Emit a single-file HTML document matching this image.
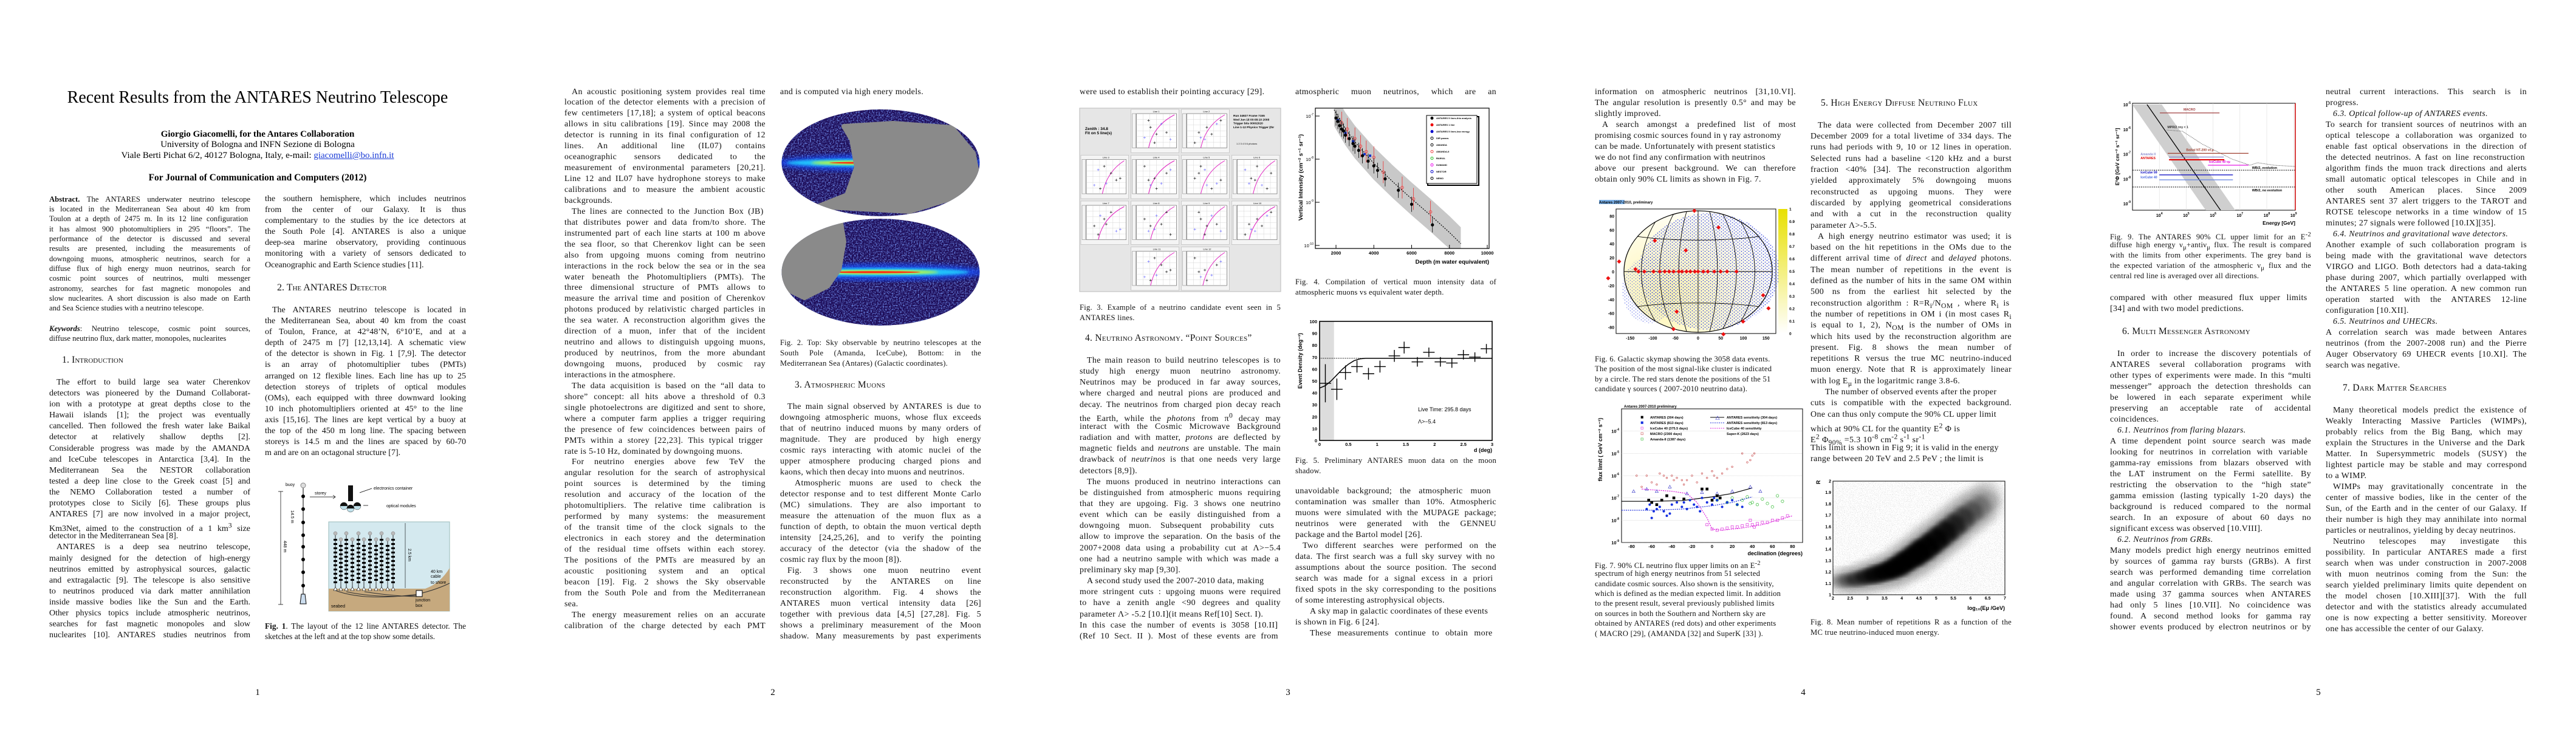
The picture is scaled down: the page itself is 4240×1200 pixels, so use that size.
<!DOCTYPE html>
<html><head><meta charset="utf-8">
<style>
html,body{margin:0;padding:0;background:#fff;}
body{width:4240px;height:1200px;position:relative;overflow:hidden;font-family:"Liberation Serif",serif;color:#000;}
.ln{position:absolute;white-space:nowrap;transform-origin:0 0;font-family:"Liberation Serif",serif;color:#111;}
.p1{font-size:14px;}
.ab{font-size:12.7px;}
.pw{font-size:14px;letter-spacing:0.35px;}
.cap{font-size:12.6px;letter-spacing:0.25px;}
.cap1{font-size:13.4px;}
.hd{font-size:15.5px;font-variant:small-caps;letter-spacing:0.3px;}
.hd1{font-size:16px;font-variant:small-caps;}
.blk{position:absolute;text-align:center;white-space:nowrap;}
#figs{position:absolute;left:0;top:0;}
svg text{font-family:"Liberation Sans",sans-serif;}
</style></head>
<body>
<svg id="figs" width="4240" height="1200" viewBox="0 0 4240 1200">
<defs>
<filter id="nz" x="0" y="0" width="100%" height="100%"><feTurbulence type="fractalNoise" baseFrequency="0.45" numOctaves="2" seed="4"/><feColorMatrix values="0 0 0 0 0.2  0 0 0 0 0.35  0 0 0 0 1  0 0 0 2.4 -1.0"/></filter>
<filter id="bl4"><feGaussianBlur stdDeviation="4"/></filter>
<filter id="bl2"><feGaussianBlur stdDeviation="2"/></filter>
<filter id="bl6"><feGaussianBlur stdDeviation="7"/></filter>
<filter id="spk" x="0" y="0" width="100%" height="100%"><feTurbulence type="fractalNoise" baseFrequency="0.9" numOctaves="1" seed="7"/><feColorMatrix values="0 0 0 0 0  0 0 0 0 0  0 0 0 0 0  0 0 0 3 -1.6"/></filter>
<clipPath id="clipTop"><ellipse cx="1449.5" cy="268" rx="163" ry="88"/></clipPath>
<clipPath id="clipBot"><ellipse cx="1449.5" cy="448" rx="163" ry="88"/></clipPath>
<clipPath id="clipF4"><rect x="2165" y="178" width="286" height="231"/></clipPath>
<clipPath id="clipF6"><ellipse cx="2795" cy="447" rx="122" ry="100"/></clipPath>
<clipPath id="clipF8"><rect x="3017" y="792" width="283" height="187"/></clipPath>
<clipPath id="clipF9"><rect x="3510" y="170" width="268" height="176"/></clipPath>
<pattern id="dots" width="6" height="5" patternUnits="userSpaceOnUse"><circle cx="1.5" cy="1.5" r="0.9" fill="#2233dd"/><circle cx="4.5" cy="3.8" r="0.9" fill="#2233dd"/></pattern>
<linearGradient id="cbar" x1="0" y1="1" x2="0" y2="0"><stop offset="0" stop-color="#ffffff"/><stop offset="1" stop-color="#e8e000"/></linearGradient>
<radialGradient id="expo" cx="0.3" cy="0.7" r="0.8"><stop offset="0" stop-color="#fff6b0"/><stop offset="1" stop-color="#ffffff"/></radialGradient>
</defs>
</svg>

<div class="blk" style="left:0;width:848px;top:144px;font-size:28px;line-height:34px;">Recent Results from the ANTARES Neutrino Telescope</div>
<div class="blk" style="left:0;width:848px;top:212px;font-size:15px;line-height:18px;font-weight:bold;">Giorgio Giacomelli, for the Antares Collaboration</div>
<div class="blk" style="left:0;width:848px;top:229px;font-size:15px;line-height:18px;">University of Bologna and INFN Sezione di Bologna</div>
<div class="blk" style="left:0;width:848px;top:247px;font-size:15px;line-height:18px;">Viale Berti Pichat 6/2, 40127 Bologna, Italy, e-mail: <span style="color:#1a3bd6;text-decoration:underline;">giacomelli@bo.infn.it</span></div>
<div class="blk" style="left:0;width:848px;top:284px;font-size:15.5px;line-height:18px;font-weight:bold;">For Journal of Communication and Computers (2012)</div>

<script>
function place(x, yc, lh, W, arr, cls) {
  for (let i = 0; i < arr.length; i++) {
    let s = arr[i], just = true, ind = 0;
    while (/^[~>]/.test(s)) { if (s[0] === '~') just = false; else ind += 12; s = s.slice(1); }
    const d = document.createElement('div');
    
    
    d.className = 'ln ' + cls;
    d.style.left = x + 'px';
    d.style.top = (yc + i * lh - lh / 2) + 'px';
    d.style.height = lh + 'px';
    d.style.lineHeight = lh + 'px';
    d.style.paddingLeft = ind + 'px';
    d.innerHTML = '<span>' + s + '</span>';
    document.body.appendChild(d);
    const sp = d.firstChild;
    const w = sp.getBoundingClientRect().width;
    const avail = W - ind;
    if (w > avail) { d.style.transform = 'scaleX(' + (avail / w) + ')'; }
    else if (just) {
      const n = (sp.textContent.match(/ /g) || []).length;
      if (n) d.style.wordSpacing = ((avail - w) / n) + 'px';
    }
  }
}
const W = 331;
place(81, 328, 16.3, W, [
 "<b>Abstract.</b> The ANTARES underwater neutrino telescope",
 "is located in the Mediterranean Sea about 40 km from",
 "Toulon at a depth of 2475 m.  In its 12 line configuration",
 "it has almost 900 photomultipliers in 295 “floors”. The",
 "performance of the detector is discussed and several",
 "results are presented, including the measurements of",
 "downgoing muons, atmospheric neutrinos, search for a",
 "diffuse flux of high energy muon neutrinos, search for",
 "cosmic point sources of neutrinos, multi messenger",
 "astronomy, searches for fast magnetic monopoles and",
 "slow nuclearites. A short discussion is also made on Earth",
 "~and Sea Science studies with a neutrino telescope."], 'ab');
place(81, 541, 16.3, W, [
 "<b><i>Keywords</i></b>: Neutrino telescope, cosmic point sources,",
 "~diffuse neutrino flux, dark matter, monopoles, nuclearites"], 'ab');
place(102, 593, 20, 300, ["~1. Introduction"], 'hd1');
place(81, 630, 18.1, W, [
 ">The effort to build large sea water Cherenkov",
 "detectors was pioneered by the Dumand Collaborat-",
 "ion with a prototype at great depths close to the",
 "Hawaii islands [1]; the project was eventually",
 "cancelled. Then followed the fresh water lake Baikal",
 "detector at relatively shallow depths [2].",
 "Considerable progress was made by the AMANDA",
 "and IceCube telescopes in Antarctica [3,4]. In the",
 "Mediterranean Sea the NESTOR collaboration",
 "tested a deep line close to the Greek coast [5] and",
 "the NEMO Collaboration tested a number of",
 "prototypes close to Sicily [6]. These groups plus",
 "ANTARES [7] are now involved in a major project,",
 "Km3Net, aimed to the construction of a 1 km<sup>3</sup> size",
 "~detector in the Mediterranean Sea [8].",
 ">ANTARES is a deep sea neutrino telescope,",
 "mainly designed for the detection of high-energy",
 "neutrinos emitted by astrophysical sources, galactic",
 "and extragalactic [9]. The telescope is also sensitive",
 "to neutrinos produced via dark matter annihilation",
 "inside massive bodies like the Sun and the Earth.",
 "Other physics topics include atmospheric neutrinos,",
 "searches for fast magnetic monopoles and slow",
 "nuclearites [10]. ANTARES studies neutrinos from"], 'p1');
place(436, 328, 18.1, W, [
 "the southern hemisphere, which includes neutrinos",
 "from the center of our Galaxy. It is thus",
 "complementary to the studies by the ice detectors at",
 "the South Pole [4]. ANTARES is also a unique",
 "deep-sea marine observatory, providing continuous",
 "monitoring with a variety of sensors dedicated to",
 "~Oceanographic and Earth Science studies [11]."], 'p1');
place(456, 474, 20, 300, ["~2. The ANTARES Detector"], 'hd1');
place(436, 511, 18.1, W, [
 ">The ANTARES neutrino telescope is located in",
 "the Mediterranean Sea, about 40 km from the coast",
 "of Toulon, France, at 42°48’N, 6°10’E, and at a",
 "depth of 2475 m [7] [12,13,14]. A schematic view",
 "of the detector is shown in Fig. 1 [7,9]. The detector",
 "is an array of photomultiplier tubes (PMTs)",
 "arranged on 12 flexible lines. Each line has up to 25",
 "detection storeys of triplets of optical modules",
 "(OMs), each equipped with three downward looking",
 "10 inch photomultipliers  oriented at 45° to the line",
 "axis [15,16]. The lines are kept vertical by a buoy at",
 "the top of the 450 m long line. The spacing between",
 "storeys is 14.5 m and the lines are spaced by 60-70",
 "~m and are on an octagonal structure [7]."], 'p1');
place(436, 1030, 17, W, [
 "<b>Fig. 1</b>. The layout of the 12 line ANTARES detector. The",
 "~sketches at the left and at the top show some details."], 'cap1');

place(929, 151.5, 17.94, W, [
 ">An acoustic positioning system provides real time",
 "location of the detector elements with a precision of",
 "few centimeters [17,18]; a system of optical beacons",
 "allows in situ calibrations [19]. Since may 2008 the",
 "detector is running in its final configuration of 12",
 "lines. An additional line (IL07) contains",
 "oceanographic sensors dedicated to the",
 "measurement of environmental parameters [20,21].",
 "Line 12 and IL07 have hydrophone storeys to make",
 "calibrations and to measure the ambient acoustic",
 "~backgrounds.",
 ">The lines are connected to the Junction Box  (JB)",
 "that distributes power and data from/to shore. The",
 "instrumented part of each line starts at 100 m above",
 "the sea floor, so that Cherenkov light can be seen",
 "also from upgoing muons coming from neutrino",
 "interactions in the rock below the sea or in the sea",
 "water beneath the Photomultipliers (PMTs). The",
 "three dimensional structure of PMTs allows to",
 "measure the arrival time and position of Cherenkov",
 "photons produced by relativistic charged particles in",
 "the sea water. A reconstruction algorithm gives the",
 "direction of a muon, infer that of the incident",
 "neutrino and allows to distinguish upgoing muons,",
 "produced by neutrinos, from the more abundant",
 "downgoing muons, produced by cosmic ray",
 "~interactions in the atmosphere.",
 ">The data acquisition is based on the “all data to",
 "shore” concept: all hits above a threshold of 0.3",
 "single photoelectrons are digitized and sent to shore,",
 "where a computer farm applies a trigger requiring",
 "the presence of few coincidences between pairs of",
 "PMTs  within a storey [22,23]. This typical trigger",
 "~rate is 5-10 Hz, dominated by downgoing muons.",
 ">For neutrino energies above few TeV the",
 "angular resolution for the search of astrophysical",
 "point sources is determined by the timing",
 "resolution and accuracy of the location of the",
 "photomultipliers. The relative time calibration is",
 "performed by many systems: the measurement",
 "of the transit time of the clock signals to the",
 "electronics in each storey and the determination",
 "of the residual time offsets within each storey.",
 "The positions of the PMTs are measured by an",
 "acoustic positioning system and an optical",
 "beacon [19]. Fig. 2 shows the Sky observable",
 "from the South Pole and from the Mediterranean",
 "~sea.",
 ">The energy measurement relies on an accurate",
 "calibration of the charge detected by each PMT"], 'pw');
place(1284, 151.5, 17.94, W, ["~and is computed via high enery models."], 'pw');
place(1284, 564, 17, W, [
 "Fig. 2. Top: Sky observable by neutrino telescopes at the",
 "South Pole (Amanda, IceCube), Bottom: in the",
 "~Mediterranean Sea  (Antares) (Galactic coordinates)."], 'cap');
place(1308, 634, 20, 300, ["~3. Atmospheric Muons"], 'hd');
place(1284, 670, 17.98, W, [
 ">The main signal observed by ANTARES is due to",
 "downgoing atmospheric muons, whose flux exceeds",
 "that of neutrino induced muons by many orders of",
 "magnitude. They are produced by high energy",
 "cosmic rays interacting with atomic nuclei of the",
 "upper atmosphere producing charged pions and",
 "~kaons, which then decay into muons and neutrinos.",
 ">>Atmospheric muons are used to check the",
 "detector response and to test different Monte Carlo",
 "(MC) simulations. They are also important to",
 "measure the attenuation of the muon flux as a",
 "function of depth, to obtain the muon vertical depth",
 "intensity [24,25,26], and to verify the pointing",
 "accuracy of the detector (via the shadow of the",
 "~cosmic ray flux by the moon [8]).",
 ">Fig. 3 shows one muon neutrino event",
 "reconstructed by the ANTARES on line",
 "reconstruction algorithm. Fig. 4 shows the",
 "ANTARES muon vertical intensity data [26]",
 "together with previous data [4,5] [27,28]. Fig. 5",
 "shows a preliminary measurement of the Moon",
 "shadow. Many measurements by past experiments"], 'pw');

place(1777, 151.5, 18, W, ["~were used to establish their pointing  accuracy [29]."], 'pw');
place(1777, 506, 17, W, [
 "Fig. 3. Example of a neutrino candidate event seen in 5",
 "~ANTARES lines."], 'cap');
place(1786, 557, 20, 330, ["~4. Neutrino Astronomy. “Point Sources”"], 'hd');
place(1777, 594, 18.16, W, [
 ">The main reason to build neutrino telescopes is to",
 "study high energy muon neutrino astronomy.",
 "Neutrinos may be produced in far away sources,",
 "where charged and neutral pions are produced and",
 "decay. The neutrinos from charged pion decay reach",
 "the Earth, while the <i>photons</i> from π<sup>0</sup> decay may",
 "interact with the Cosmic Microwave Background",
 "radiation and with matter, <i>protons</i> are deflected by",
 "magnetic fields and <i>neutrons</i> are unstable. The main",
 "drawback of <i>neutrinos</i> is that one needs very large",
 "~detectors [8,9]).",
 ">The muons produced in neutrino interactions can",
 "be distinguished from atmospheric muons requiring",
 "that they are upgoing. Fig. 3 shows one neutrino",
 "event which can be easily distinguished from a",
 "downgoing muon.  Subsequent probability cuts",
 "allow to improve the separation. On the basis of the",
 "2007+2008 data using a probability cut at Λ>−5.4",
 "one had a neutrino sample with which  was made a",
 "~preliminary sky map [9,30].",
 "~>A second study used the 2007-2010 data, making",
 "more stringent cuts : upgoing muons were required",
 "to have a zenith angle &lt;90 degrees and quality",
 "~parameter Λ&gt; -5.2 [10.I](it means Ref[10] Sect. I).",
 "In this case the number of  events is 3058 [10.II]",
 "(Ref 10 Sect. II ).  Most of these events are from"], 'pw');
place(2132, 151.5, 18, W, ["atmospheric muon neutrinos, which are an"], 'pw');
place(2132, 464, 17, W, [
 "Fig. 4. Compilation of vertical muon intensity data of",
 "~atmospheric muons vs equivalent water depth."], 'cap');
place(2132, 758, 17, W, [
 "Fig. 5. Preliminary ANTARES muon data on the moon",
 "~shadow."], 'cap');
place(2132, 809, 18, W, [
 "unavoidable background; the atmospheric  muon",
 "contamination was smaller than 10%. Atmospheric",
 "muons were simulated with the MUPAGE package;",
 "neutrinos were generated with the GENNEU",
 "~package and the Bartol model [26].",
 ">Two different searches were performed on the",
 "data.  The first search was a full sky survey with no",
 "assumptions about the source position. The second",
 "search was made for a signal excess in  a priori",
 "fixed spots in the sky corresponding to the positions",
 "~of some interesting astrophysical objects.",
 "~>>A sky map in galactic coordinates of these events",
 "~is shown in Fig. 6 [24].",
 ">>These measurements continue to  obtain more"], 'pw');

place(2625, 151.5, 18, W, [
 "information on atmospheric neutrinos [31,10.VI].",
 "The angular resolution is presently 0.5° and may be",
 "~slightly improved.",
 ">A search amongst a predefined list of most",
 "~promising cosmic sources found in γ ray astronomy",
 "~can be made. Unfortunately with present statistics",
 "~we do not find any confirmation with neutrinos",
 "above our present background. We can therefore",
 "~obtain  only 90% CL limits as shown in Fig. 7."], 'pw');
place(2625, 591, 16.5, W, [
 "~Fig. 6. Galactic skymap showing the 3058 data events.",
 "~The position of the most signal-like cluster is indicated",
 "~by a circle. The red stars denote the positions of the 51",
 "~candidate γ sources   ( 2007-2010 neutrino data)."], 'cap');
place(2625, 928, 16.4, W, [
 "~Fig. 7. 90% CL neutrino flux upper limits on an E<sup>-2</sup>",
 "~spectrum of high energy neutrinos from 51 selected",
 "~candidate cosmic sources. Also shown is the sensitivity,",
 "~which is defined as the median expected limit. In addition",
 "~to the present result, several previously published limits",
 "~on sources in both the Southern and Northern sky are",
 "~obtained by ANTARES (red dots) and other experiments",
 "~( MACRO [29], (AMANDA [32] and SuperK [33] )."], 'cap');
place(2997, 170, 20, 330, ["~5. High Energy Diffuse Neutrino Flux"], 'hd');
place(2980, 207, 18.3, W, [
 ">The data were collected from December 2007 till",
 "December 2009 for a total livetime of 334 days. The",
 "runs had periods with 9, 10 or 12 lines in operation.",
 "Selected runs had a baseline &lt;120 kHz and a burst",
 "fraction &lt;40% [34]. The reconstruction algorithm",
 "yielded approximately 5% downgoing muons",
 "reconstructed as upgoing muons. They were",
 "discarded by applying geometrical considerations",
 "and with a cut in the reconstruction quality",
 "~parameter Λ>-5.5.",
 ">A high energy neutrino estimator was used; it is",
 "based on the hit repetitions in the OMs due to the",
 "different arrival time of <i>direct</i> and <i>delayed</i> photons.",
 "The mean number of repetitions in the event is",
 "defined as the number of hits in the same OM within",
 "500 ns from the earliest hit selected by the",
 "reconstruction algorithm :  R=R<sub>i</sub>/N<sub>OM</sub> , where R<sub>i</sub> is",
 "the number of repetitions in OM i (in most cases R<sub>i</sub>",
 "is equal to 1, 2), N<sub>OM</sub> is the number of OMs in",
 "which hits used by the reconstruction algorithm are",
 "present. Fig. 8 shows the mean number of",
 "repetitions R versus the true MC neutrino-induced",
 "muon energy. Note that R is approximately linear",
 "~with log E<sub>μ</sub> in the logaritmic range 3.8-6.",
 "~>>The number of observed events after the proper",
 "cuts is compatible with the expected background.",
 "~One can thus only compute the 90% CL upper limit",
 "~ which at 90% CL for the quantity  E<sup>2</sup> Φ is",
 "~ E<sup>2</sup> Φ<sub>90%</sub> =5.3 10<sup>-8</sup> cm<sup>-2</sup> s<sup>-1</sup> sr<sup>-1</sup>",
 "~This limit is shown in Fig 9; it is valid in the energy",
 "~range between 20 TeV and 2.5 PeV ; the limit is"], 'pw');
place(2980, 1024, 17, W, [
 "Fig. 8. Mean number of repetitions R as a function of the",
 "~MC true neutrino-induced muon energy."], 'cap');

place(3473, 386, 17.2, W, [
 "Fig. 9. The ANTARES 90% CL upper limit for an E<sup>-2</sup>",
 "diffuse high energy ν<sub>μ</sub>+antiν<sub>μ</sub> flux. The result is compared",
 "with the limits from other experiments. The grey band is",
 "the expected variation of the atmospheric ν<sub>μ</sub> flux and the",
 "~central red line is averaged over all directions."], 'cap');
place(3473, 491, 18, W, [
 " compared with other measured flux upper limits",
 "~[34] and with two model predictions."], 'pw');
place(3493, 546, 20, 330, ["~6. Multi Messenger Astronomy"], 'hd');
place(3473, 583, 18, W, [
 ">In order to increase the discovery potentials of",
 "ANTARES several collaboration programs with",
 "other types of experiments were made. In this “multi",
 "messenger” approach the detection thresholds can",
 "be lowered in each separate experiment while",
 "preserving an acceptable rate of accidental",
 "~coincidences.",
 "~><i>6.1. Neutrinos from flaring blazars.</i>",
 "A time dependent point source search was made",
 "looking  for neutrinos in correlation with variable",
 "gamma-ray emissions from blazars observed with",
 "the LAT instrument on the Fermi satellite. By",
 "restricting the observation to the “high state”",
 "gamma emission (lasting typically 1-20 days) the",
 "background is reduced compared to the normal",
 "search. In an exposure of about 60 days no",
 "~significant excess was observed [10.VIII].",
 "~><i>6.2. Neutrinos from GRBs.</i>",
 "Many models predict high energy neutrinos emitted",
 "by sources of gamma ray bursts (GRBs). A first",
 "search was performed demanding time correlation",
 "and angular correlation with GRBs. The search was",
 "made using 37 gamma sources when ANTARES",
 "had only 5 lines [10.VII]. No coincidence was",
 "found. A second method looks for gamma ray",
 "shower events produced by electron neutrinos or by"], 'pw');
place(3828, 151.5, 18, W, [
 "neutral current interactions. This search is in",
 "~progress.",
 "~><i>6.3. Optical follow-up of ANTARES events.</i>",
 "To search for transient sources of neutrinos with an",
 "optical telescope a collaboration was organized to",
 "enable fast optical observations in the direction of",
 "the detected neutrinos.  A fast on line reconstruction",
 "algorithm finds the muon track directions and alerts",
 "small automatic optical telescopes in Chile and in",
 "other south American places. Since 2009",
 "ANTARES sent 37 alert triggers to the TAROT and",
 "ROTSE telescope networks in a time window of 15",
 "~minutes; 27 signals were followed [10.IX][35].",
 "~><i>6.4. Neutrinos and gravitational wave detectors.</i>",
 "Another example of such collaboration program is",
 "being made with the gravitational wave detectors",
 "VIRGO and LIGO. Both detectors had a data-taking",
 "phase during 2007, which partially overlapped with",
 "the ANTARES 5 line operation. A new common run",
 "operation started with the ANTARES 12-line",
 "~configuration [10.XII].",
 "~><i>6.5. Neutrinos and UHECRs.</i>",
 "A correlation search was made between Antares",
 "neutrinos (from the 2007-2008 run) and the Pierre",
 "Auger Observatory 69 UHECR events [10.XI]. The",
 "~search was negative."], 'pw');
place(3856, 639, 20, 300, ["~7. Dark Matter Searches"], 'hd');
place(3828, 676, 18, W, [
 ">Many theoretical models predict the existence of",
 "Weakly Interacting Massive Particles (WIMPs),",
 "probably relics from the Big Bang,  which may",
 "explain the  Structures in the Universe and the Dark",
 "Matter. In Supersymmetric models (SUSY) the",
 "lightest particle may be stable and may correspond",
 "~to a WIMP.",
 ">WIMPs may gravitationally concentrate in the",
 "center of massive bodies, like in the center of the",
 "Sun, of the Earth and in the center of our Galaxy. If",
 "their number is high they may annihilate into normal",
 "~particles or neutralinos, yielding by decay neutrinos.",
 ">Neutrino telescopes may investigate this",
 "possibility. In particular ANTARES made a first",
 "search when was under construction in 2007-2008",
 "with muon neutrinos coming from the Sun: the",
 "search yielded preliminary limits quite dependent on",
 "the model chosen [10.XIII][37]. With the full",
 "detector and with the statistics already accumulated",
 "one is now expecting a better sensitivity. Moreover",
 "~one has accessible the center of our Galaxy."], 'pw');

const pageNums = ["1", "2", "3", "4", "5"];
for (let i = 0; i < pageNums.length; i++) {
  const d = document.createElement('div');
  
  
  d.className = 'blk';
  d.style.left = (i * 848) + 'px'; d.style.width = '848px'; d.style.top = '1131px';
  d.style.fontSize = '15px'; d.style.lineHeight = '18px';
  d.textContent = pageNums[i];
  document.body.appendChild(d);
}
</script>

<script>
const NS = 'http://www.w3.org/2000/svg';
const svg = document.getElementById('figs');
function mk(tag, attrs, parent) { const e = document.createElementNS(NS, tag); for (const k in attrs) e.setAttribute(k, attrs[k]); (parent || svg).appendChild(e); return e; }
function tx(x, y, str, attrs, parent) { const e = mk('text', Object.assign({x: x, y: y}, attrs || {}), parent); e.textContent = str; return e; }
function grp(parent) { return mk('g', {}, parent); }

/* ===== Fig 4 data ===== */
const f4Depth = [2000, 2100, 2200, 2300, 2400, 2500, 2700, 2900, 3000, 3200, 3400, 3700, 4000, 4200, 4600, 5300, 6000, 7100];
const f4Int = [9e-8, 7.5e-8, 6e-8, 5e-8, 4.5e-8, 3.6e-8, 3e-8, 2.3e-8, 2e-8, 1.6e-8, 1.2e-8, 9e-9, 7e-9, 5.5e-9, 3.5e-9, 1.9e-9, 9e-10, 3e-10];
const f4RedD = [2300, 2600, 3000, 3300, 3600, 4000, 4500, 5500, 6100, 7000];
const f4RedI = [7e-8, 5e-8, 3e-8, 2e-8, 1.5e-8, 1.1e-8, 5e-9, 2.2e-9, 1.2e-9, 6e-10];
const f4BlueD = [2100, 2500, 2900, 3500, 3800];
const f4BlueI = [8e-8, 4e-8, 2.6e-8, 1.3e-8, 1.2e-8];
const f4FitD = [1900, 2500, 3000, 4000, 5000, 6000, 7000, 8000, 8600];
const f4FitI = [1.4e-7, 5e-8, 2.5e-8, 8e-9, 3e-9, 1.2e-9, 5e-10, 2e-10, 1.1e-10];
const f4XTicks = [2000, 4000, 6000, 8000, 10000];
const f4YTicks = [-7, -8, -9, -10];
const f4Legend = ["ANTARES 5 lines-this analysis", "ANTARES 1 line", "ANTARES 5 lines-low energy", "DIR param.", "AMANDA", "AMANDA-II", "BAIKAL", "DUMAND", "NESTOR", "NEMO"];
const f4LegendColors = ["#000", "#e00", "#00c", "#000", "#000", "#e44", "#2b2", "#e0e", "#00c", "#000"];

/* ===== Fig 5 data ===== */
const f5D = [0.1, 0.3, 0.45, 0.65, 0.85, 1.05, 1.3, 1.47, 1.7, 1.9, 2.1, 2.3, 2.5, 2.7, 2.9];
const f5V = [48, 43, 57, 62, 56, 62, 71, 78, 66, 74, 66, 65, 72, 70, 77];
const f5Err = [16, 9, 6, 5, 5, 5, 5, 5, 4, 4, 4, 4, 4, 4, 4];
const f5FitD = [0, 0.1, 0.2, 0.3, 0.4, 0.5, 0.6, 0.7, 0.8, 1.0, 3.0];
const f5FitV = [44, 46, 50, 55, 60, 64, 67, 68.5, 69, 69, 69];
const f5XTicks = [0, 0.5, 1, 1.5, 2, 2.5, 3];
const f5YTicks = [0, 10, 20, 30, 40, 50, 60, 70, 80, 90, 100];

/* ===== Fig 6 data ===== */
const f6SrcL = [-60, -45, -35, -25, -15, -8, 0, 5, 12, 18, 25, 30, 38, 45, 52, 60, 70, 85, 95, 100, -110, -95, -70, -40, 20, 40, 60, -130, 130, 150, 10, 75];
const f6SrcB = [0, 0, 0, 0, 0, 0, 0, 0, 0, 0, 0, 0, 0, 0, 0, 0, 0, 0, 0, 2, -20, -45, -60, 42, 20, -38, -55, -30, 8, -5, 60, 28];
const f6XTicks = [-150, -100, -50, 0, 50, 100, 150];
const f6YTicks = [-80, -60, -40, -20, 0, 20, 40, 60, 80];
const f6CbTicks = [0, 0.1, 0.2, 0.3, 0.4, 0.5, 0.6, 0.7, 0.8, 0.9, 1];

/* ===== Fig 7 data ===== */
const f7AntD = [-63, -60, -55, -50, -45, -38, -28, -10, -5, 0, 5, 8];
const f7AntE = [-7.1, -7.2, -7.3, -7.1, -6.9, -7.0, -7.05, -6.6, -6.6, -7.1, -6.9, -7.0];
const f7BlueD = [-65, -62, -60, -58, -55, -52, -48, -45, -42, -40, -35, -30, -28, -25, -22, -18, -15, -12, -10, -5, 0, 2, 5, 10, 15, 20, 25, 30];
const f7BlueE = [-7.5, -7.3, -7.9, -7.6, -7.5, -7.4, -7.6, -7.8, -7.7, -7.3, -7.2, -7.4, -7.2, -7.5, -7.1, -7.3, -7.4, -7.6, -7.0, -7.2, -7.3, -7.0, -7.1, -7.4, -7.2, -7.1, -7.3, -7.4];
const f7MacD = [-75, -70, -65, -60, -55, -52, -48, -45, -40, -38, -35, -30, -28, -25, -20, -15, -10, -5, 0, 2, 5, 10, 15, 20, 30, 35, 38, 40, 42];
const f7MacE = [-6.0, -6.5, -6.0, -6.3, -6.4, -5.9, -6.0, -6.1, -6.0, -6.2, -6.1, -6.2, -6.4, -6.2, -6.0, -6.3, -5.9, -6.1, -5.8, -6.0, -6.1, -5.9, -5.7, -5.6, -5.0, -5.4, -5.3, -5.1, -5.0];
const f7IcD = [-5, 0, 5, 10, 15, 20, 25, 30, 35, 38, 40, 42, 45, 50, 55, 60, 65, 70, 75];
const f7IcE = [-8.2, -8.4, -8.45, -8.4, -8.35, -8.3, -8.3, -8.25, -8.2, -8.0, -8.2, -8.3, -8.15, -8.1, -8.1, -8.0, -8.0, -7.9, -7.8];
const f7AmD = [5, 15, 20, 25, 30, 35, 38, 40, 45, 50, 55, 60, 65, 70];
const f7AmE = [-7.1, -7.2, -7.0, -7.3, -7.1, -6.95, -7.25, -7.2, -7.3, -7.05, -7.25, -7.4, -6.9, -7.15];
const f7SkD = [-78, -65, -55, -42, -25, -10, 5, 20, 38, 48];
const f7SkE = [-6.7, -6.6, -6.7, -6.5, -6.8, -6.75, -6.8, -6.7, -6.5, -6.7];
const f7SensD = [-90, -60, -30, 0, 20, 40];
const f7SensE = [-7.15, -7.15, -7.12, -6.95, -6.8, -6.55];
const f7Sens2E = [-7.55, -7.55, -7.5, -7.35, -7.2, -6.95];
const f7IcSD = [-70, -40, -25, -15, -5, 0, 10, 30, 50, 80];
const f7IcSE = [-6.6, -6.7, -6.8, -7.2, -7.9, -8.4, -8.45, -8.35, -8.2, -7.8];
const f7XTicks = [-80, -60, -40, -20, 0, 20, 40, 60, 80];
const f7YTicks = [-4, -5, -6, -7, -8, -9];

/* ===== Fig 8 data ===== */
const f8LogE = [2.25, 2.5, 2.75, 3, 3.25, 3.5, 3.75, 4, 4.25, 4.5, 4.75, 5, 5.25, 5.5, 5.75, 6, 6.25, 6.5];
const f8MeanR = [1.12, 1.13, 1.14, 1.16, 1.18, 1.2, 1.23, 1.27, 1.32, 1.37, 1.42, 1.48, 1.54, 1.6, 1.66, 1.72, 1.77, 1.82];
const f8Spread = [0.05, 0.05, 0.06, 0.06, 0.07, 0.07, 0.08, 0.09, 0.09, 0.1, 0.1, 0.1, 0.1, 0.1, 0.1, 0.09, 0.09, 0.08];
const f8Density = [0.25, 0.35, 0.5, 0.7, 0.85, 0.95, 1, 1, 1, 1, 0.95, 0.9, 0.8, 0.65, 0.5, 0.35, 0.22, 0.12];
const f8XTicks = [2, 2.5, 3, 3.5, 4, 4.5, 5, 5.5, 6, 6.5, 7];
const f8YTicks = [1, 1.1, 1.2, 1.3, 1.4, 1.5, 1.6, 1.7, 1.8, 1.9, 2];

/* ===== Fig 9 data ===== */
const f9AtmE = [3.54, 6.28];
const f9AtmF = [-5.0, -9.27];
const f9LimName = ["MACRO", "Baikal NT-200", "Amanda II", "ANTARES", "IceCube 40", "IceCube 59", "IceCube 40 diff"];
const f9LimFrom = [4.02, 4.31, 4.36, 4.36, 5.81, 4.0, 4.0];
const f9LimTo = [6.24, 7.32, 6.4, 6.42, 7.32, 6.74, 6.74];
const f9LimVal = [-5.34, -6.97, -7.12, -7.23, -7.45, -7.84, -8.04];
const f9LimColor = ["#a04040", "#a04030", "#8888cc", "#e00000", "#e000e0", "#0000c0", "#6080e0"];
const f9MprE = [4.27, 4.86, 5.6, 6.7, 7.37, 7.66, 8.27, 9.05];
const f9MprF = [-6.03, -6.08, -6.6, -7.2, -7.45, -7.35, -7.45, -7.5];
const f9WbVal = [-7.65, -8.33];
const f9WbName = ["WB/2, evolution", "WB/2, no evolution"];
const f9XTicks = [4, 5, 6, 7, 8, 9];
const f9YTicks = [-5, -6, -7, -8, -9];

/* Fig 1 */
try {
  const g = grp();  
  const box = mk('rect', {x: 541, y: 859, width: 199, height: 147, fill: '#d4e9ef', stroke: '#9bb', 'stroke-width': 1}, g);
  
  const sb = mk('path', {d: 'M541 969 L700 969 Q725 960 740 935 L740 1006 L541 1006 Z', fill: '#c6a97e'}, g);
  
  const lineXs = [552, 561, 570, 580, 590, 599, 609, 619, 628, 638, 647];
  for (let i = 0; i < lineXs.length; i++) {
    const lx = lineXs[i], top = (i % 2 === 0) ? 881 : 891;
    const ln = mk('line', {x1: lx, y1: top, x2: lx, y2: 968, stroke: '#000', 'stroke-width': 0.8}, g);
    
    const b = mk('circle', {cx: lx, cy: top - 3, r: 3, fill: '#bbb', stroke: '#777', 'stroke-width': 0.5}, g);
    
    for (let y = top + 6; y < 958; y += 7) {
      const s = mk('rect', {x: lx - 3, y: y, width: 6, height: 3, fill: '#000'}, g);
      
    }
    const an = mk('path', {d: `M${lx - 3} 972 L${lx} 966 L${lx + 3} 972 Z`, fill: '#fff', stroke: '#000', 'stroke-width': 0.6}, g);
    
  }
  const cb = mk('path', {d: 'M552 972 Q600 990 688 978 M570 974 Q620 985 688 980 M600 974 Q650 982 690 982 M688 978 Q720 970 740 960', fill: 'none', stroke: '#333', 'stroke-width': 1}, g);
  
  const jb = mk('rect', {x: 685, y: 972, width: 10, height: 10, fill: '#fff', stroke: '#000'}, g);
  
  const dl = mk('line', {x1: 667, y1: 861, x2: 667, y2: 968, stroke: '#000', 'stroke-width': 0.6}, g);
  
  const l1 = tx(709, 943, '40 km', {'font-size': 7}, g); 
  const l2 = tx(709, 951, 'cable', {'font-size': 7}, g); 
  const l3 = tx(709, 961, 'to shore', {'font-size': 7}, g); 
  const l4 = tx(684, 990, 'junction', {'font-size': 7}, g); 
  const l5 = tx(684, 999, 'box', {'font-size': 7}, g); 
  const l6 = tx(545, 1000, 'seabed', {'font-size': 7}, g); 
  const l7 = tx(0, 0, '2.5 km', {'font-size': 7, transform: 'translate(672,903) rotate(90)'}, g); 
  const vl = mk('line', {x1: 499, y1: 803, x2: 499, y2: 992, stroke: '#000', 'stroke-width': 1}, g);
  
  const bu = mk('circle', {cx: 499, cy: 799, r: 4, fill: '#ddd', stroke: '#888'}, g);
  
  const st = [817, 838, 860, 881, 900, 921, 942, 964];
  for (let i = 0; i < st.length; i++) {
    const d = mk('circle', {cx: 499, cy: st[i], r: 3, fill: '#000'}, g);
    
  }
  const an2 = mk('path', {d: 'M494 994 L496 978 L502 978 L504 994 Z', fill: '#cde', stroke: '#000'}, g);
  
  const dm = mk('path', {d: 'M462 809 L462 995 M458 809 L466 809 M458 995 L466 995', stroke: '#000', 'stroke-width': 0.7, fill: 'none'}, g);
  
  const t1 = tx(470, 800, 'buoy', {'font-size': 7}, g); 
  const t2 = tx(0, 0, '448 m', {'font-size': 7, transform: 'translate(467,890) rotate(90)'}, g); 
  const t3 = tx(0, 0, '14.5 m', {'font-size': 7, transform: 'translate(479,840) rotate(90)'}, g); 
  const t4 = tx(518, 814, 'storey', {'font-size': 7}, g); 
  const ar = mk('path', {d: 'M510 818 L552 818 M548 815 L552 818 L548 821', stroke: '#000', fill: 'none', 'stroke-width': 0.7}, g);
  
  const bar = mk('rect', {x: 573, y: 799, width: 8, height: 26, fill: '#111'}, g);
  
  const om = [[566, 830], [577, 834], [588, 830]];
  for (let i = 0; i < om.length; i++) {
    const c1 = mk('circle', {cx: om[i][0], cy: om[i][1] + 3, r: 6, fill: '#bfe0ea', stroke: '#333', 'stroke-width': 0.5}, g);
    
    const c2 = mk('path', {d: `M${om[i][0] - 6} ${om[i][1] + 3} A6 6 0 0 1 ${om[i][0] + 6} ${om[i][1] + 3} Z`, fill: '#111'}, g);
    
  }
  const t5 = tx(615, 806, 'electronics container', {'font-size': 7}, g); 
  const t6 = tx(636, 835, 'optical modules', {'font-size': 7}, g); 
  const a1 = mk('path', {d: 'M612 804 L592 811 M606 832 L598 832', stroke: '#000', 'stroke-width': 0.7}, g);
  
} catch (e) {}

/* Fig 2 */
try {
  const maps = [{cy: 268, clip: 'clipTop', grey: [[1389, 208], [1470, 203], [1567, 210], [1602, 252], [1608, 283], [1584, 321], [1497, 348], [1346, 340], [1394, 321], [1410, 275], [1402, 230]]},
                {cy: 448, clip: 'clipBot', grey: [[1289, 428], [1302, 383], [1335, 363], [1383, 361], [1389, 398], [1381, 444], [1362, 471], [1324, 490], [1291, 474], [1270, 450]]}];
  for (let m = 0; m < maps.length; m++) {
    const M = maps[m];
    const g = grp(); 
    
    const inner = mk('g', {'clip-path': 'url(#' + M.clip + ')'}, g);
    const bg = mk('ellipse', {cx: 1449.5, cy: M.cy, rx: 163, ry: 88, fill: '#1c0a55'}, inner);
    
    const nz = mk('rect', {x: 1286, y: M.cy - 88, width: 327, height: 176, filter: 'url(#nz)', opacity: 0.9}, inner);
    
    const b1 = mk('ellipse', {cx: 1449, cy: M.cy, rx: 175, ry: 14, fill: '#1550ff', opacity: 0.75, filter: 'url(#bl4)'}, inner);
    
    const b2 = mk('ellipse', {cx: 1445, cy: M.cy, rx: 150, ry: 7, fill: '#22d0ff', opacity: 0.9, filter: 'url(#bl2)'}, inner);
    
    const b3 = mk('ellipse', {cx: 1440, cy: M.cy, rx: 105, ry: 3.5, fill: '#c8ff30', filter: 'url(#bl2)'}, inner);
    
    const b4 = mk('ellipse', {cx: 1440, cy: M.cy, rx: 75, ry: 1.6, fill: '#ff2a10'}, inner);
    
    const gr = mk('polygon', {points: M.grey.map(p => p.join(',')).join(' '), fill: '#8a8a8a', stroke: '#8a8a8a', 'stroke-width': 8, 'stroke-linejoin': 'round'}, inner);
    
  }
} catch (e) {}

/* Fig 3 */
try {
  const g = grp();  
  const bg = mk('rect', {x: 1777, y: 178, width: 331, height: 302, fill: '#e6e6e6', stroke: '#bbb'}, g);
  
  const cw = 331 / 4, ch = 302 / 4;
  const cells = [[0, 1], [0, 2], [1, 0], [1, 1], [1, 2], [1, 3], [2, 0], [2, 1], [2, 2], [2, 3], [3, 1], [3, 2]];
  const crossOff = [[0.2, 0.7], [0.35, 0.4], [0.5, 0.6], [0.62, 0.3], [0.75, 0.55], [0.3, 0.2], [0.85, 0.75], [0.45, 0.85]];
  for (let k = 0; k < cells.length; k++) {
    const r = cells[k][0], c = cells[k][1];
    const x0 = 1777 + c * cw, y0 = 178 + r * ch;
    const p = mk('rect', {x: x0 + 2, y: y0 + 2, width: cw - 4, height: ch - 4, fill: '#f4f4f4', stroke: '#aaa', 'stroke-width': 0.5}, g);
    
    const fx = x0 + 11, fy = y0 + 9, fw = cw - 17, fh = ch - 19;
    const fr = mk('rect', {x: fx, y: fy, width: fw, height: fh, fill: '#fff', stroke: '#333', 'stroke-width': 0.5}, g);
    
    for (let j = 1; j < 6; j++) {
      const gl = mk('line', {x1: fx + fw * j / 6, y1: fy, x2: fx + fw * j / 6, y2: fy + fh, stroke: '#ccc', 'stroke-width': 0.4}, g);
      
      const gh = mk('line', {x1: fx, y1: fy + fh * j / 6, x2: fx + fw, y2: fy + fh * j / 6, stroke: '#ccc', 'stroke-width': 0.4}, g);
      
    }
    const tl = mk('rect', {x: x0 + 4, y: fy, width: 6, height: fh, fill: 'none', stroke: '#555', 'stroke-width': 0.4}, g);
    
    const sx = fx + fw * (0.3 + 0.05 * (k % 3));
    const cv = mk('path', {d: `M${sx} ${fy + fh} Q${sx + fw * 0.12} ${fy + fh * 0.35} ${fx + fw * 0.95} ${fy + 2}`, fill: 'none', stroke: '#e020c0', 'stroke-width': 1}, g);
    
    for (let q = 0; q < crossOff.length; q++) {
      const cx = fx + fw * crossOff[(q + k) % 8][0], cy = fy + fh * crossOff[q][1];
      const cr = mk('path', {d: `M${cx - 2} ${cy} L${cx + 2} ${cy} M${cx} ${cy - 2} L${cx} ${cy + 2}`, stroke: q % 3 === 0 ? '#6060ff' : '#000', 'stroke-width': 0.6}, g);
      
    }
    const tt = tx(fx + fw / 2 - 6, fy - 2, 'Line ' + (k + 1), {'font-size': 4}, g);
    
  }
  const t1 = tx(1786, 214, 'Zenith :    34.8', {'font-size': 6.5, 'font-weight': 'bold'}, g); 
  const t2 = tx(1786, 221, 'Fit on 5 line(s)', {'font-size': 6.5, 'font-weight': 'bold'}, g); 
  const info = ['Run 34927   Frame 7155', 'Wed Jun 18 00:08:10 2008', 'Trigger bits 00002020', 'Line 1-12 Physics Trigger (thr'];
  for (let i = 0; i < info.length; i++) {
    const t = tx(2030, 192 + i * 6.3, info[i], {'font-size': 4.8, 'font-weight': 'bold'}, g);
    
  }
  const t3 = tx(2035, 238, '1 2 3 4 5 6 photons', {'font-size': 4}, g); 
} catch (e) {}

/* Fig 4 */
try {
  const x4 = v => 2199 + (v - 2000) * 0.031125;
  const y4 = v => 191 + (-7 - Math.log10(v)) * 71;
  const g = grp();  
  const cl = mk('g', {'clip-path': 'url(#clipF4)'}, g);
  const up = f4FitD.map((d, i) => x4(d) + ',' + y4(f4FitI[i] * 2.4)).join(' ');
  const lo = f4FitD.slice().reverse().map((d, i) => x4(d) + ',' + y4(f4FitI[f4FitI.length - 1 - i] / 2.4)).join(' ');
  const band = mk('polygon', {points: up + ' ' + lo, fill: '#c8c8c8'}, cl);
  
  const fit = mk('polyline', {points: f4FitD.map((d, i) => x4(d) + ',' + y4(f4FitI[i])).join(' '), fill: 'none', stroke: '#000', 'stroke-width': 1.2, 'stroke-dasharray': '2,2'}, cl);
  
  for (let i = 0; i < f4RedD.length; i++) {
    const e = mk('path', {d: `M${x4(f4RedD[i])} ${y4(f4RedI[i] * 1.8)} L${x4(f4RedD[i])} ${y4(f4RedI[i] / 1.8)}`, stroke: '#e33', 'stroke-width': 0.8}, cl);
    
    const m = mk('circle', {cx: x4(f4RedD[i]), cy: y4(f4RedI[i]), r: 2.2, fill: 'none', stroke: '#e44', 'stroke-width': 0.9}, cl);
    
  }
  for (let i = 0; i < f4BlueD.length; i++) {
    const m = mk('rect', {x: x4(f4BlueD[i]) - 2, y: y4(f4BlueI[i]) - 2, width: 4, height: 4, fill: '#13c'}, cl);
    
  }
  for (let i = 0; i < f4Depth.length; i++) {
    const e = mk('path', {d: `M${x4(f4Depth[i])} ${y4(f4Int[i] * 1.5)} L${x4(f4Depth[i])} ${y4(f4Int[i] / 1.5)}`, stroke: '#000', 'stroke-width': 0.8}, cl);
    
    const m = mk('circle', {cx: x4(f4Depth[i]), cy: y4(f4Int[i]), r: 2.6, fill: '#000'}, cl);
    
  }
  const fr = mk('rect', {x: 2165, y: 178, width: 286, height: 231, fill: 'none', stroke: '#000', 'stroke-width': 1.2}, g);
  
  for (let i = 0; i < f4XTicks.length; i++) {
    const t = tx(x4(f4XTicks[i]), 419, String(f4XTicks[i]), {'font-size': 7.5, 'font-weight': 'bold', 'text-anchor': 'middle'}, g);
    
    const tk = mk('line', {x1: x4(f4XTicks[i]), y1: 409, x2: x4(f4XTicks[i]), y2: 403, stroke: '#000'}, g);
    
  }
  for (let i = 0; i < f4YTicks.length; i++) {
    const t = tx(2162, 191 + (-7 - f4YTicks[i]) * 71 + 3, '10', {'font-size': 7.5, 'text-anchor': 'end'}, g);
    
    const s = mk('tspan', {dy: -4, 'font-size': 5}, t); s.textContent = String(f4YTicks[i]);
    const tk = mk('line', {x1: 2165, y1: 191 + (-7 - f4YTicks[i]) * 71, x2: 2172, y2: 191 + (-7 - f4YTicks[i]) * 71, stroke: '#000'}, g);
    
  }
  const xl = tx(2451, 434, 'Depth (m water equivalent)', {'font-size': 9.5, 'font-weight': 'bold', 'text-anchor': 'end'}, g);
  
  const yl = tx(0, 0, 'Vertical Intensity (cm⁻² s⁻¹ sr⁻¹)', {'font-size': 9.5, 'font-weight': 'bold', 'text-anchor': 'middle', transform: 'translate(2144,292) rotate(-90)'}, g);
  
  const lb = mk('rect', {x: 2348, y: 190, width: 83, height: 112, fill: '#fff', stroke: '#000', 'stroke-width': 1}, g);
  
  const sh = mk('path', {d: 'M2431 192 L2434 192 L2434 305 L2350 305 L2350 302', fill: 'none', stroke: '#000', 'stroke-width': 2}, g);
  
  for (let i = 0; i < f4Legend.length; i++) {
    const ly = 196 + i * 11;
    const mkr = mk('circle', {cx: 2357, cy: ly - 1.5, r: 2, fill: i < 3 ? f4LegendColors[i] : 'none', stroke: f4LegendColors[i]}, g);
    
    const t = tx(2364, ly, f4Legend[i], {'font-size': 4, 'font-weight': 'bold'}, g);
    
  }
} catch (e) {}

/* Fig 5 */
try {
  const x5 = v => 2172 + v * (284 / 3);
  const y5 = v => 725 - v * 1.96;
  const g = grp();  
  const sh = mk('rect', {x: x5(0), y: y5(100), width: x5(0.25) - x5(0), height: 196, fill: '#ddd'}, g);
  
  const dl = mk('line', {x1: x5(0), y1: y5(69), x2: x5(3), y2: y5(69), stroke: '#000', 'stroke-dasharray': '1.5,1.5'}, g);
  
  const fit = mk('polyline', {points: f5FitD.map((d, i) => x5(d) + ',' + y5(f5FitV[i])).join(' '), fill: 'none', stroke: '#000', 'stroke-width': 1.5}, g);
  
  for (let i = 0; i < f5D.length; i++) {
    const c = mk('path', {d: `M${x5(f5D[i] - 0.1)} ${y5(f5V[i])} L${x5(f5D[i] + 0.1)} ${y5(f5V[i])} M${x5(f5D[i])} ${y5(f5V[i] + f5Err[i])} L${x5(f5D[i])} ${y5(f5V[i] - f5Err[i])}`, stroke: '#000', 'stroke-width': 1.4}, g);
    
  }
  const fr = mk('rect', {x: 2172, y: 529, width: 284, height: 196, fill: 'none', stroke: '#000', 'stroke-width': 1.6}, g);
  
  for (let i = 0; i < f5XTicks.length; i++) {
    const t = tx(x5(f5XTicks[i]), 734, String(f5XTicks[i]), {'font-size': 7.5, 'font-weight': 'bold', 'text-anchor': 'middle'}, g);
    
  }
  for (let i = 0; i < f5YTicks.length; i++) {
    const t = tx(2168, y5(f5YTicks[i]) + 3, String(f5YTicks[i]), {'font-size': 7.5, 'font-weight': 'bold', 'text-anchor': 'end'}, g);
    
  }
  const xl = tx(2456, 744, 'd (deg)', {'font-size': 9, 'font-weight': 'bold', 'text-anchor': 'end'}, g);
  
  const yl = tx(0, 0, 'Event Density (deg⁻²)', {'font-size': 9, 'font-weight': 'bold', 'text-anchor': 'middle', transform: 'translate(2143,594) rotate(-90)'}, g);
  
  const l1 = tx(2334, 677, 'Live Time: 295.8 days', {'font-size': 9}, g); 
  const l2 = tx(2334, 697, 'Λ>−5.4', {'font-size': 9}, g); 
} catch (e) {}

/* Fig 6 */
try {
  const cx = 2795, cy = 447, rx = 122, ry = 100;
  const hp = (l, b) => { const L = l * Math.PI / 180 / 2, B = b * Math.PI / 180; const z = Math.sqrt(1 + Math.cos(B) * Math.cos(L)); return [cx + (Math.cos(B) * Math.sin(L) / z) * rx * Math.SQRT2, cy - (Math.sin(B) / z) * ry * Math.SQRT2]; };
  const g = grp();  
  const ttl = mk('rect', {x: 2632, y: 329, width: 42, height: 7, fill: '#7ab0e8'}, g);
  
  const tt = tx(2632, 335, 'Antares 2007-2010, preliminary', {'font-size': 6, 'font-weight': 'bold'}, g);
  
  const fr = mk('rect', {x: 2660, y: 344, width: 263, height: 205, fill: '#fff', stroke: '#000', 'stroke-width': 1}, g);
  
  const bgE = mk('ellipse', {cx: cx, cy: cy, rx: rx, ry: ry, fill: 'url(#expo)'}, g);
  
  const ev = mk('ellipse', {cx: cx + 18, cy: cy, rx: rx - 6, ry: ry - 4, fill: 'url(#dots)', opacity: 0.85}, g);
  
  const ev2 = mk('ellipse', {cx: cx - 80, cy: cy + 30, rx: 45, ry: 55, fill: 'url(#dots)', opacity: 0.5}, g);
  
  const gl = mk('g', {'clip-path': 'url(#clipF6)'}, g);
  const mer = [-150, -120, -90, -60, -30, 0, 30, 60, 90, 120, 150];
  for (let i = 0; i < mer.length; i++) {
    let pts = [];
    for (let b = -90; b <= 90; b += 5) { const p = hp(mer[i], b); pts.push(p[0] + ',' + p[1]); }
    const pl = mk('polyline', {points: pts.join(' '), fill: 'none', stroke: '#000', 'stroke-width': 0.9}, gl);
    
  }
  const par = [-60, -30, 0, 30, 60];
  for (let i = 0; i < par.length; i++) {
    let pts = [];
    for (let l = -180; l <= 180; l += 10) { const p = hp(l, par[i]); pts.push(p[0] + ',' + p[1]); }
    const pl = mk('polyline', {points: pts.join(' '), fill: 'none', stroke: '#000', 'stroke-width': 0.9}, gl);
    
  }
  const outline = mk('ellipse', {cx: cx, cy: cy, rx: rx, ry: ry, fill: 'none', stroke: '#000', 'stroke-width': 1.2}, g);
  
  for (let i = 0; i < f6SrcL.length; i++) {
    const p = hp(-f6SrcL[i], f6SrcB[i]);
    const s = mk('rect', {x: p[0] - 2.5, y: p[1] - 2.5, width: 5, height: 5, fill: '#ee1111', transform: `rotate(45 ${p[0]} ${p[1]})`}, g);
    
  }
  for (let i = 0; i < f6XTicks.length; i++) {
    const t = tx(2795 + f6XTicks[i] * 0.745, 559, String(f6XTicks[i]), {'font-size': 7, 'font-weight': 'bold', 'text-anchor': 'middle'}, g);
    
  }
  for (let i = 0; i < f6YTicks.length; i++) {
    const t = tx(2657, 447.5 - f6YTicks[i] * 1.144 + 2.5, String(f6YTicks[i]), {'font-size': 7, 'font-weight': 'bold', 'text-anchor': 'end'}, g);
    
  }
  const cbar = mk('rect', {x: 2927, y: 344, width: 15, height: 205, fill: 'url(#cbar)'}, g);
  
  for (let i = 0; i < f6CbTicks.length; i++) {
    const t = tx(2945, 549 - f6CbTicks[i] * 205 + 2.5, String(f6CbTicks[i]), {'font-size': 6.5, 'font-weight': 'bold'}, g);
    
  }
} catch (e) {}

/* Fig 7 */
try {
  const x7 = d => 2669 + (d + 90) * 298 / 180;
  const y7 = e => 673 + (-3 - e) * 36.67;
  const g = grp();  
  const fr = mk('rect', {x: 2669, y: 673, width: 298, height: 220, fill: '#fff', stroke: '#000', 'stroke-width': 1}, g);
  
  for (let i = 0; i < f7YTicks.length; i++) {
    const gl = mk('line', {x1: 2669, y1: y7(f7YTicks[i]), x2: 2967, y2: y7(f7YTicks[i]), stroke: '#bbb', 'stroke-width': 0.5, 'stroke-dasharray': '1,1'}, g);
    
    const t = tx(2665, y7(f7YTicks[i]) + 3, '10', {'font-size': 7.5, 'font-weight': 'bold', 'text-anchor': 'end'}, g);
    
    const s = mk('tspan', {dy: -4, 'font-size': 5}, t); s.textContent = String(f7YTicks[i]);
  }
  for (let i = 0; i < f7XTicks.length; i++) {
    const t = tx(x7(f7XTicks[i]), 902, String(f7XTicks[i]), {'font-size': 7.5, 'font-weight': 'bold', 'text-anchor': 'middle'}, g);
    
  }
  const sens = mk('polyline', {points: f7SensD.map((d, i) => x7(d) + ',' + y7(f7SensE[i])).join(' '), fill: 'none', stroke: '#000', 'stroke-width': 1.2}, g);
  
  const sens2 = mk('polyline', {points: f7SensD.map((d, i) => x7(d) + ',' + y7(f7Sens2E[i])).join(' '), fill: 'none', stroke: '#2233dd', 'stroke-width': 1.2, 'stroke-dasharray': '2,1.5'}, g);
  
  const ics = mk('polyline', {points: f7IcSD.map((d, i) => x7(d) + ',' + y7(f7IcSE[i])).join(' '), fill: 'none', stroke: '#dd22dd', 'stroke-width': 1.2, 'stroke-dasharray': '2,1.5'}, g);
  
  for (let i = 0; i < f7MacD.length; i++) {
    const m = mk('circle', {cx: x7(f7MacD[i]), cy: y7(f7MacE[i]), r: 1.3, fill: 'none', stroke: '#c55', 'stroke-width': 0.7}, g);
    
  }
  for (let i = 0; i < f7IcD.length; i++) {
    const m = mk('rect', {x: x7(f7IcD[i]) - 2, y: y7(f7IcE[i]) - 2, width: 4, height: 4, fill: 'none', stroke: '#d3d', 'stroke-width': 0.7}, g);
    
  }
  for (let i = 0; i < f7AmD.length; i++) {
    const m = mk('circle', {cx: x7(f7AmD[i]), cy: y7(f7AmE[i]), r: 2.2, fill: 'none', stroke: '#3b3', 'stroke-width': 0.7}, g);
    
  }
  for (let i = 0; i < f7SkD.length; i++) {
    const X = x7(f7SkD[i]), Y = y7(f7SkE[i]);
    const m = mk('path', {d: `M${X - 2.5} ${Y + 2} L${X + 2.5} ${Y + 2} L${X} ${Y - 2.5} Z`, fill: 'none', stroke: '#44c', 'stroke-width': 0.7}, g);
    
  }
  for (let i = 0; i < f7BlueD.length; i++) {
    const m = mk('circle', {cx: x7(f7BlueD[i]), cy: y7(f7BlueE[i]), r: 2, fill: '#1530e0'}, g);
    
  }
  for (let i = 0; i < f7AntD.length; i++) {
    const m = mk('rect', {x: x7(f7AntD[i]) - 2.3, y: y7(f7AntE[i]) - 2.3, width: 4.6, height: 4.6, fill: '#000'}, g);
    
  }
  const leg = ['ANTARES (304 days)', 'ANTARES (813 days)', 'IceCube 40 (375.5 days)', 'MACRO (2300 days)', 'Amanda-II (1387 days)'];
  const legCol = ['#000', '#1530e0', '#d3d', '#c55', '#3b3'];
  for (let i = 0; i < leg.length; i++) {
    const t = tx(2716, 689 + i * 9, leg[i], {'font-size': 5.5, 'font-weight': 'bold'}, g);
    
    const mkr = mk('rect', {x: 2701, y: 685 + i * 9, width: 3.5, height: 3.5, fill: i < 2 ? legCol[i] : 'none', stroke: legCol[i], 'stroke-width': 0.6}, g);
    
  }
  const leg2 = ['ANTARES sensitivity (304 days)', 'ANTARES sensitivity (813 days)', 'IceCube 40 sensitivity', 'Super-K (2623 days)'];
  const leg2Col = ['#000', '#2233dd', '#dd22dd', '#44c'];
  for (let i = 0; i < leg2.length; i++) {
    const t = tx(2842, 689 + i * 9, leg2[i], {'font-size': 5.5, 'font-weight': 'bold'}, g);
    
    if (i < 3) {
      const ls = mk('line', {x1: 2815, y1: 687 + i * 9, x2: 2838, y2: 687 + i * 9, stroke: leg2Col[i], 'stroke-width': 1, 'stroke-dasharray': i ? '2,1.5' : 'none'}, g);
      
    } else {
      const tr = mk('path', {d: 'M2824 690.5 L2830 690.5 L2827 685 Z', fill: 'none', stroke: leg2Col[i], 'stroke-width': 0.6}, g);
      
    }
  }
  const tt = tx(2673, 671, 'Antares 2007-2010 preliminary', {'font-size': 6, 'font-weight': 'bold'}, g);
  
  const xl = tx(2967, 914, 'declination (degrees)', {'font-size': 9, 'font-weight': 'bold', 'text-anchor': 'end'}, g);
  
  const yl = tx(0, 0, 'flux limit ( GeV cm⁻² s⁻¹)', {'font-size': 9, 'font-weight': 'bold', 'text-anchor': 'middle', transform: 'translate(2637,740) rotate(-90)'}, g);
  
} catch (e) {}

/* Fig 8 */
try {
  const x8 = v => 3017 + (v - 2) * 56.6;
  const y8 = v => 979 - (v - 1) * 187;
  const g = grp();  
  const cl = mk('g', {'clip-path': 'url(#clipF8)'}, g);
  const spk = mk('rect', {x: 3017, y: 792, width: 283, height: 187, filter: 'url(#spk)', opacity: 0.25}, cl);
  
  for (let i = 0; i < f8LogE.length; i++) {
    const h = mk('ellipse', {cx: x8(f8LogE[i]), cy: y8(f8MeanR[i]), rx: 24, ry: f8Spread[i] * 187 * 2.2, fill: '#777', opacity: 0.35, filter: 'url(#bl6)'}, cl);
    
  }
  for (let i = 0; i < f8LogE.length; i++) {
    const c = mk('ellipse', {cx: x8(f8LogE[i]), cy: y8(f8MeanR[i]), rx: 20, ry: f8Spread[i] * 187 * 1.1, fill: '#000', opacity: 0.95 * f8Density[i], filter: 'url(#bl4)'}, cl);
    
  }
  const fr = mk('rect', {x: 3017, y: 792, width: 283, height: 187, fill: 'none', stroke: '#000', 'stroke-width': 1}, g);
  
  for (let i = 0; i < f8XTicks.length; i++) {
    const t = tx(x8(f8XTicks[i]), 987, String(f8XTicks[i]), {'font-size': 7, 'font-weight': 'bold', 'text-anchor': 'middle'}, g);
    
  }
  for (let i = 0; i < f8YTicks.length; i++) {
    const t = tx(3014, y8(f8YTicks[i]) + 2.5, String(f8YTicks[i]), {'font-size': 7, 'font-weight': 'bold', 'text-anchor': 'end'}, g);
    
  }
  const xl = tx(3300, 1004, 'log₁₀(Eμ /GeV)', {'font-size': 9, 'font-weight': 'bold', 'text-anchor': 'end'}, g);
  
  const yl = tx(0, 0, 'R', {'font-size': 9, 'font-weight': 'bold', transform: 'translate(2996,797) rotate(-90)'}, g);
  
} catch (e) {}

/* Fig 9 */
try {
  const x9 = v => 3510 + (v - 3) * 44.2;
  const y9 = e => 172 + (-5 - e) * 40.8;
  const g = grp();  
  const fr = mk('rect', {x: 3510, y: 170, width: 268, height: 176, fill: '#fff', stroke: '#000', 'stroke-width': 1}, g);
  
  for (let i = 0; i < f9XTicks.length; i++) {
    const gl = mk('line', {x1: x9(f9XTicks[i]), y1: 170, x2: x9(f9XTicks[i]), y2: 346, stroke: '#ddd', 'stroke-width': 0.6}, g);
    
    const t = tx(x9(f9XTicks[i]), 357, '10', {'font-size': 7, 'font-weight': 'bold', 'text-anchor': 'middle'}, g);
    
    const s = mk('tspan', {dy: -4, 'font-size': 5}, t); s.textContent = String(f9XTicks[i]);
  }
  for (let i = 0; i < f9YTicks.length; i++) {
    const t = tx(3507, y9(f9YTicks[i]) + 3, '10', {'font-size': 7, 'font-weight': 'bold', 'text-anchor': 'end'}, g);
    
    const s = mk('tspan', {dy: -4, 'font-size': 5}, t); s.textContent = String(f9YTicks[i]);
  }
  const cl = mk('g', {'clip-path': 'url(#clipF9)'}, g);
  const bw = 0.55;
  const band = mk('polygon', {points: `${x9(f9AtmE[0] - bw)},${y9(f9AtmF[0])} ${x9(f9AtmE[0] + bw)},${y9(f9AtmF[0])} ${x9(f9AtmE[1] + bw)},${y9(f9AtmF[1])} ${x9(f9AtmE[1] - bw)},${y9(f9AtmF[1])}`, fill: '#cfcfcf'}, cl);
  
  const atm = mk('line', {x1: x9(f9AtmE[0]), y1: y9(f9AtmF[0]), x2: x9(f9AtmE[1]), y2: y9(f9AtmF[1]), stroke: '#000', 'stroke-width': 1.3}, cl);
  
  for (let i = 0; i < f9WbVal.length; i++) {
    const l = mk('line', {x1: 3510, y1: y9(f9WbVal[i]), x2: 3778, y2: y9(f9WbVal[i]), stroke: '#000', 'stroke-width': 1, 'stroke-dasharray': '2,1.5'}, cl);
    
    const t = tx(x9(7.45), y9(f9WbVal[i]) - 2 + (i === 1 ? 9 : 0), f9WbName[i], {'font-size': 5.5, 'font-weight': 'bold'}, g);
    
  }
  const mpr = mk('polyline', {points: f9MprE.map((e, i) => x9(e) + ',' + y9(f9MprF[i])).join(' '), fill: 'none', stroke: '#666', 'stroke-width': 0.9, 'stroke-dasharray': '1.5,1'}, cl);
  
  for (let i = 0; i < f9LimVal.length; i++) {
    const l = mk('line', {x1: x9(f9LimFrom[i]), y1: y9(f9LimVal[i]), x2: x9(f9LimTo[i]), y2: y9(f9LimVal[i]), stroke: f9LimColor[i], 'stroke-width': i === 3 ? 2 : 1.2}, cl);
    
  }
  const labs = [['MACRO', 4.9, -5.25, '#a04040'], ['MPR/2  τnγ < 1', 4.3, -5.95, '#333'], ['Baikal NT-200 νe,μ', 5.0, -6.88, '#a04030'], ['Amanda II', 3.3, -7.05, '#8888cc'], ['ANTARES', 3.3, -7.2, '#e00000'], ['IceCube 40 νμ', 5.85, -7.35, '#e000e0'], ['IceCube 59', 3.3, -7.78, '#0000c0'], ['IceCube 40', 3.3, -7.98, '#4060e0']];
  for (let i = 0; i < labs.length; i++) {
    const t = tx(x9(labs[i][1]), y9(labs[i][2]), labs[i][0], {'font-size': 5.2, 'font-weight': 'bold', fill: labs[i][3]}, g);
    
  }
  const rl = mk('line', {x1: 3778, y1: 170, x2: 3778, y2: 346, stroke: '#c00', 'stroke-width': 1.5}, g);
  
  const xl = tx(3778, 370, 'Energy [GeV]', {'font-size': 8.5, 'font-weight': 'bold', 'text-anchor': 'end'}, g);
  
  const yl = tx(0, 0, 'E²Φ [GeV cm⁻² s⁻¹ sr⁻¹]', {'font-size': 8.5, 'font-weight': 'bold', 'text-anchor': 'middle', transform: 'translate(3488,258) rotate(-90)'}, g);
  
} catch (e) {}
</script>
</body></html>
